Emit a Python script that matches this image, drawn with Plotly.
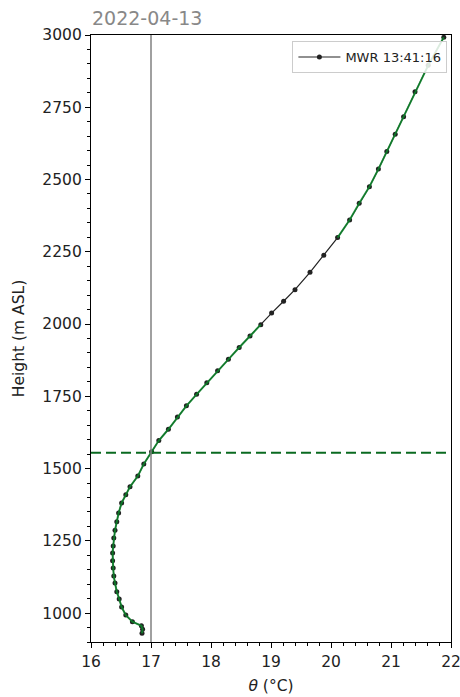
import plotly.graph_objects as go

# ---- data ----
heights = [930, 944, 956, 970, 993, 1021, 1049, 1074, 1104, 1128, 1156, 1181, 1208,
           1232, 1260, 1287, 1316, 1346, 1381, 1409, 1437, 1474, 1516, 1558, 1597,
           1636, 1678, 1717, 1757, 1797, 1838, 1878, 1919, 1959, 1998, 2038, 2079,
           2119, 2179, 2238, 2299, 2360, 2418, 2475, 2536, 2597, 2657, 2717, 2804,
           2895, 2992]
theta = [16.85, 16.86, 16.84, 16.69, 16.58, 16.51, 16.47, 16.43, 16.40, 16.38, 16.37,
         16.36, 16.36, 16.37, 16.38, 16.40, 16.43, 16.46, 16.51, 16.58, 16.65, 16.78,
         16.88, 17.01, 17.13, 17.29, 17.44, 17.59, 17.76, 17.93, 18.11, 18.29, 18.47,
         18.65, 18.83, 19.01, 19.21, 19.40, 19.65, 19.88, 20.11, 20.31, 20.47, 20.64,
         20.79, 20.93, 21.07, 21.21, 21.40, 21.62, 21.88]
# 1 = highlighted (green) level, 0 = not highlighted
highlight = [1]*35 + [0]*5 + [1]*11
series_label = "MWR 13:41:16"
date_label = "2022-04-13"
pbl_height = 1555
theta_ref = 17.0
x_range = [16, 22]
y_range = [900, 3000]
x_ticks = [16, 17, 18, 19, 20, 21, 22]
y_ticks = [1000, 1250, 1500, 1750, 2000, 2250, 2500, 2750, 3000]

green_theta = [t if h else None for t, h in zip(theta, highlight)]

FONT = "DejaVu Sans"
fig = go.Figure()

fig.add_trace(go.Scatter(
    x=theta, y=heights, mode="lines+markers", name=series_label,
    line=dict(color="#222222", width=1.2),
    marker=dict(color="#222222", size=5),
    showlegend=True,
))
fig.add_trace(go.Scatter(
    x=green_theta, y=heights, mode="lines", connectgaps=False,
    line=dict(color="#0a8a2a", width=2), opacity=0.8,
    showlegend=False, hoverinfo="skip",
))
fig.add_trace(go.Scatter(
    x=x_range, y=[pbl_height, pbl_height], mode="lines",
    line=dict(color="#0a6a20", width=2, dash="10px,5px"),
    showlegend=False, hoverinfo="skip",
))
fig.add_trace(go.Scatter(
    x=[theta_ref, theta_ref], y=y_range, mode="lines",
    line=dict(color="#808080", width=1.5),
    showlegend=False, hoverinfo="skip",
))

axis_common = dict(
    showline=True, linecolor="black", linewidth=1.2, mirror=True,
    ticks="outside", ticklen=5, tickwidth=1, tickcolor="black",
    showgrid=False, zeroline=False, automargin=False, ticklabeloverflow="allow",
    tickfont=dict(family=FONT, size=15.5, color="#222"),
)
fig.update_xaxes(
    range=x_range, tickvals=x_ticks, **axis_common,
    minor=dict(ticks="outside", ticklen=3, tickwidth=0.8, tickcolor="black", dtick=0.2, tick0=16),
    title=dict(text="<i>θ</i> (°C)", font=dict(family=FONT, size=15.5, color="#222"), standoff=10),
)
fig.update_yaxes(
    range=y_range, tickvals=y_ticks, **axis_common,
    minor=dict(ticks="outside", ticklen=3, tickwidth=0.8, tickcolor="black", dtick=50, tick0=1000),
    title=dict(text="Height (m ASL)", font=dict(family=FONT, size=15.5, color="#222"), standoff=13),
)

fig.update_layout(
    width=460, height=697,
    margin=dict(l=91, r=9, t=35, b=55),
    paper_bgcolor="white", plot_bgcolor="white",
    font=dict(family=FONT),
    title=dict(text=date_label, x=92/460, xanchor="left", xref="container",
               y=1-18/697, yanchor="middle", yref="container",
               font=dict(family=FONT, size=19, color="#888888")),
    legend=dict(x=0.99, y=0.99, xanchor="right", yanchor="top", itemwidth=42,
                bgcolor="rgba(255,255,255,0.85)", bordercolor="#cccccc", borderwidth=1,
                font=dict(family=FONT, size=13, color="#222")),
)

fig.write_html("out.html", config={"displayModeBar": False},
               post_script="document.body.style.margin='0';")
